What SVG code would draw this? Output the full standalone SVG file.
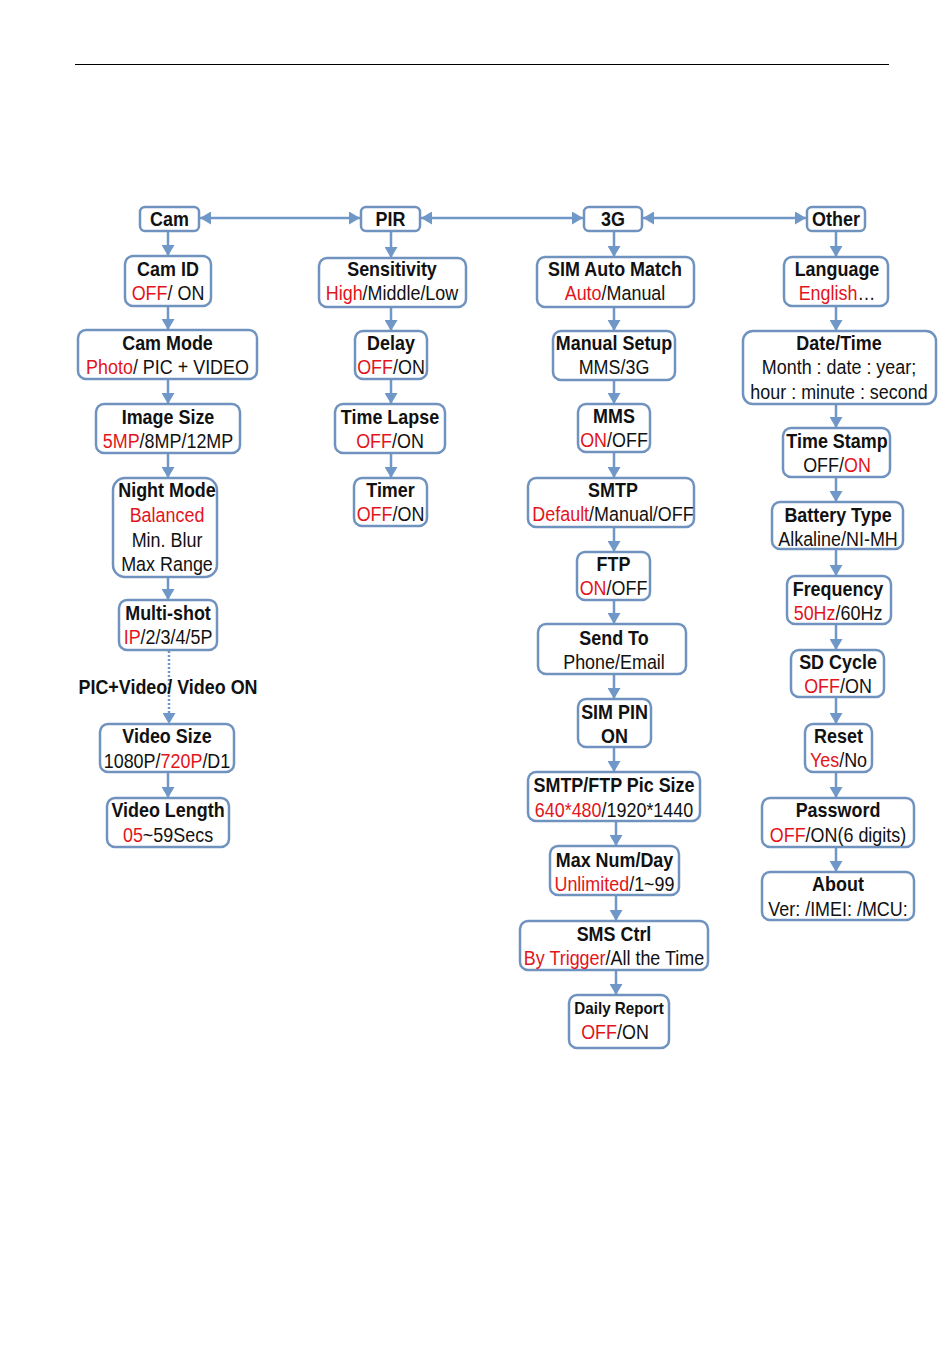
<svg xmlns="http://www.w3.org/2000/svg" width="950" height="1369" viewBox="0 0 950 1369">
<defs>
<style>
.bx{fill:#fff;stroke:#7092bf;stroke-width:2.5}
.c{stroke:#6f97c8;stroke-width:2.5;fill:none}
text{font-family:"Liberation Sans",Arial,sans-serif;font-size:19.5px;text-anchor:middle;fill:#111}
.b{font-weight:bold}
.r{fill:#e3141c}
.s{font-size:16.5px}
</style>
<marker id="ah" markerUnits="userSpaceOnUse" markerWidth="11" markerHeight="13" refX="11" refY="6.5" orient="auto-start-reverse">
<path d="M0,0 L11,6.5 L0,13 z" fill="#6f97c8"/>
</marker>
</defs>
<rect width="950" height="1369" fill="#fff"/>
<line x1="75" y1="64.5" x2="889" y2="64.5" stroke="#000" stroke-width="1"/>

<g id="connectors">
<line class="c" x1="200" y1="218" x2="360" y2="218" marker-start="url(#ah)" marker-end="url(#ah)"/>
<line class="c" x1="421" y1="218" x2="583" y2="218" marker-start="url(#ah)" marker-end="url(#ah)"/>
<line class="c" x1="643" y1="218" x2="806" y2="218" marker-start="url(#ah)" marker-end="url(#ah)"/>
<line class="c" x1="168" y1="231" x2="168" y2="256" marker-end="url(#ah)"/>
<line class="c" x1="168" y1="306" x2="168" y2="330" marker-end="url(#ah)"/>
<line class="c" x1="168" y1="379" x2="168" y2="404" marker-end="url(#ah)"/>
<line class="c" x1="168" y1="453" x2="168" y2="478" marker-end="url(#ah)"/>
<line class="c" x1="168" y1="577" x2="168" y2="600" marker-end="url(#ah)"/>
<line class="c" x1="169" y1="651" x2="169" y2="724" stroke-dasharray="2 2" stroke-width="2" marker-end="url(#ah)"/>
<line class="c" x1="168" y1="772" x2="168" y2="798" marker-end="url(#ah)"/>
<line class="c" x1="391" y1="231" x2="391" y2="258" marker-end="url(#ah)"/>
<line class="c" x1="391" y1="307" x2="391" y2="331" marker-end="url(#ah)"/>
<line class="c" x1="391" y1="379" x2="391" y2="404" marker-end="url(#ah)"/>
<line class="c" x1="391" y1="453" x2="391" y2="478" marker-end="url(#ah)"/>
<line class="c" x1="614" y1="231" x2="614" y2="257" marker-end="url(#ah)"/>
<line class="c" x1="614" y1="307" x2="614" y2="331" marker-end="url(#ah)"/>
<line class="c" x1="614" y1="380" x2="614" y2="404" marker-end="url(#ah)"/>
<line class="c" x1="614" y1="452" x2="614" y2="478" marker-end="url(#ah)"/>
<line class="c" x1="614" y1="527" x2="614" y2="552" marker-end="url(#ah)"/>
<line class="c" x1="614" y1="600" x2="614" y2="624" marker-end="url(#ah)"/>
<line class="c" x1="614" y1="674" x2="614" y2="699" marker-end="url(#ah)"/>
<line class="c" x1="614" y1="747" x2="614" y2="772" marker-end="url(#ah)"/>
<line class="c" x1="616" y1="821" x2="616" y2="846" marker-end="url(#ah)"/>
<line class="c" x1="616" y1="895" x2="616" y2="921" marker-end="url(#ah)"/>
<line class="c" x1="616" y1="970" x2="616" y2="995" marker-end="url(#ah)"/>
<line class="c" x1="836" y1="231" x2="836" y2="257" marker-end="url(#ah)"/>
<line class="c" x1="836" y1="306" x2="836" y2="331" marker-end="url(#ah)"/>
<line class="c" x1="836" y1="404" x2="836" y2="428" marker-end="url(#ah)"/>
<line class="c" x1="836" y1="477" x2="836" y2="502" marker-end="url(#ah)"/>
<line class="c" x1="836" y1="549" x2="836" y2="576" marker-end="url(#ah)"/>
<line class="c" x1="836" y1="624" x2="836" y2="650" marker-end="url(#ah)"/>
<line class="c" x1="836" y1="697" x2="836" y2="724" marker-end="url(#ah)"/>
<line class="c" x1="836" y1="772" x2="836" y2="798" marker-end="url(#ah)"/>
<line class="c" x1="836" y1="847" x2="836" y2="872" marker-end="url(#ah)"/>
</g>

<g id="cam"><rect class="bx" x="140" y="207" width="59" height="24" rx="5"/>
<text class="b" transform="translate(169.5 226) scale(.92 1)">Cam</text></g>
<g id="cam-id"><rect class="bx" x="125" y="256" width="86" height="50" rx="8"/>
<text class="b" transform="translate(168 276) scale(.92 1)">Cam ID</text>
<text transform="translate(168 300) scale(.92 1)"><tspan class="r">OFF</tspan>/ ON</text></g>
<g id="cam-mode"><rect class="bx" x="78" y="330" width="179" height="49" rx="8"/>
<text class="b" transform="translate(167.5 350) scale(.92 1)">Cam Mode</text>
<text transform="translate(167.5 374) scale(.92 1)"><tspan class="r">Photo</tspan>/ PIC + VIDEO</text></g>
<g id="image-size"><rect class="bx" x="96" y="404" width="144" height="49" rx="8"/>
<text class="b" transform="translate(168 424) scale(.92 1)">Image Size</text>
<text transform="translate(168 448) scale(.92 1)"><tspan class="r">5MP</tspan>/8MP/12MP</text></g>
<g id="night-mode"><rect class="bx" x="113" y="478" width="104" height="99" rx="12"/>
<text class="b" transform="translate(167 497) scale(.92 1)">Night Mode</text>
<text class="r" transform="translate(167 522) scale(.92 1)">Balanced</text>
<text transform="translate(167 547) scale(.92 1)">Min. Blur</text>
<text transform="translate(167 571) scale(.92 1)">Max Range</text></g>
<g id="multi-shot"><rect class="bx" x="119" y="600" width="98" height="50" rx="8"/>
<text class="b" transform="translate(168 620) scale(.92 1)">Multi-shot</text>
<text transform="translate(168 644) scale(.92 1)"><tspan class="r">IP</tspan>/2/3/4/5P</text></g>
<g id="pic-video-label"><text class="b" transform="translate(168 694) scale(.92 1)">PIC+Video/ Video ON</text></g>
<g id="video-size"><rect class="bx" x="100" y="724" width="134" height="48" rx="8"/>
<text class="b" transform="translate(167 743) scale(.92 1)">Video Size</text>
<text transform="translate(167 768) scale(.92 1)">1080P/<tspan class="r">720P</tspan>/D1</text></g>
<g id="video-length"><rect class="bx" x="107" y="798" width="122" height="49" rx="8"/>
<text class="b" transform="translate(168 817) scale(.92 1)">Video Length</text>
<text transform="translate(168 842) scale(.92 1)"><tspan class="r">05</tspan>~59Secs</text></g>

<g id="pir"><rect class="bx" x="361" y="207" width="59" height="24" rx="5"/>
<text class="b" transform="translate(390.5 226) scale(.92 1)">PIR</text></g>
<g id="sensitivity"><rect class="bx" x="319" y="258" width="147" height="49" rx="8"/>
<text class="b" transform="translate(392 276) scale(.92 1)">Sensitivity</text>
<text transform="translate(392 300) scale(.92 1)"><tspan class="r">High</tspan>/Middle/Low</text></g>
<g id="delay"><rect class="bx" x="355" y="331" width="72" height="48" rx="8"/>
<text class="b" transform="translate(391 350) scale(.92 1)">Delay</text>
<text transform="translate(391 374) scale(.92 1)"><tspan class="r">OFF</tspan>/ON</text></g>
<g id="time-lapse"><rect class="bx" x="335" y="404" width="110" height="49" rx="8"/>
<text class="b" transform="translate(390 424) scale(.92 1)">Time Lapse</text>
<text transform="translate(390 448) scale(.92 1)"><tspan class="r">OFF</tspan>/ON</text></g>
<g id="timer"><rect class="bx" x="354" y="478" width="73" height="48" rx="8"/>
<text class="b" transform="translate(390.5 497) scale(.92 1)">Timer</text>
<text transform="translate(390.5 521) scale(.92 1)"><tspan class="r">OFF</tspan>/ON</text></g>

<g id="g3"><rect class="bx" x="584" y="207" width="58" height="24" rx="5"/>
<text class="b" transform="translate(613 226) scale(.92 1)">3G</text></g>
<g id="sim-auto-match"><rect class="bx" x="537" y="257" width="157" height="50" rx="8"/>
<text class="b" transform="translate(615 276) scale(.92 1)">SIM Auto Match</text>
<text transform="translate(615 300) scale(.92 1)"><tspan class="r">Auto</tspan>/Manual</text></g>
<g id="manual-setup"><rect class="bx" x="553" y="331" width="122" height="49" rx="8"/>
<text class="b" transform="translate(614 350) scale(.92 1)">Manual Setup</text>
<text transform="translate(614 374) scale(.92 1)">MMS/3G</text></g>
<g id="mms"><rect class="bx" x="578" y="404" width="72" height="48" rx="8"/>
<text class="b" transform="translate(614 423) scale(.92 1)">MMS</text>
<text transform="translate(614 447) scale(.92 1)"><tspan class="r">ON</tspan>/OFF</text></g>
<g id="smtp"><rect class="bx" x="528" y="478" width="166" height="49" rx="8"/>
<text class="b" transform="translate(613 497) scale(.92 1)">SMTP</text>
<text transform="translate(613 521) scale(.92 1)"><tspan class="r">Default</tspan>/Manual/OFF</text></g>
<g id="ftp"><rect class="bx" x="577" y="552" width="73" height="48" rx="8"/>
<text class="b" transform="translate(613.5 571) scale(.92 1)">FTP</text>
<text transform="translate(613.5 595) scale(.92 1)"><tspan class="r">ON</tspan>/OFF</text></g>
<g id="send-to"><rect class="bx" x="538" y="624" width="148" height="50" rx="8"/>
<text class="b" transform="translate(614 645) scale(.92 1)">Send To</text>
<text transform="translate(614 669) scale(.92 1)">Phone/Email</text></g>
<g id="sim-pin"><rect class="bx" x="578" y="699" width="73" height="48" rx="8"/>
<text class="b" transform="translate(614.5 719) scale(.92 1)">SIM PIN</text>
<text class="b" transform="translate(614.5 743) scale(.92 1)">ON</text></g>
<g id="pic-size"><rect class="bx" x="528" y="772" width="172" height="49" rx="8"/>
<text class="b" transform="translate(614 792) scale(.92 1)">SMTP/FTP Pic Size</text>
<text transform="translate(614 817) scale(.92 1)"><tspan class="r">640*480</tspan>/1920*1440</text></g>
<g id="max-num"><rect class="bx" x="550" y="846" width="129" height="49" rx="8"/>
<text class="b" transform="translate(614.5 867) scale(.92 1)">Max Num/Day</text>
<text transform="translate(614.5 891) scale(.92 1)"><tspan class="r">Unlimited</tspan>/1~99</text></g>
<g id="sms-ctrl"><rect class="bx" x="520" y="921" width="188" height="49" rx="8"/>
<text class="b" transform="translate(614 941) scale(.92 1)">SMS Ctrl</text>
<text transform="translate(614 965) scale(.92 1)"><tspan class="r">By Trigger</tspan>/All the Time</text></g>
<g id="daily-report"><rect class="bx" x="569" y="995" width="100" height="53" rx="8"/>
<text class="b s" transform="translate(619 1014) scale(.92 1)">Daily Report</text>
<text transform="translate(615 1039) scale(.92 1)"><tspan class="r">OFF</tspan>/ON</text></g>

<g id="other"><rect class="bx" x="807" y="207" width="58" height="24" rx="5"/>
<text class="b" transform="translate(836 226) scale(.92 1)">Other</text></g>
<g id="language"><rect class="bx" x="784" y="257" width="104" height="49" rx="8"/>
<text class="b" transform="translate(837 276) scale(.92 1)">Language</text>
<text transform="translate(837 300) scale(.92 1)"><tspan class="r">English</tspan>…</text></g>
<g id="date-time"><rect class="bx" x="743" y="331" width="193" height="73" rx="10"/>
<text class="b" transform="translate(839 350) scale(.92 1)">Date/Time</text>
<text transform="translate(839 374) scale(.92 1)">Month : date : year;</text>
<text transform="translate(839 399) scale(.92 1)">hour : minute : second</text></g>
<g id="time-stamp"><rect class="bx" x="783" y="428" width="107" height="49" rx="8"/>
<text class="b" transform="translate(837 448) scale(.92 1)">Time Stamp</text>
<text transform="translate(837 472) scale(.92 1)">OFF/<tspan class="r">ON</tspan></text></g>
<g id="battery-type"><rect class="bx" x="772" y="502" width="131" height="47" rx="8"/>
<text class="b" transform="translate(838 522) scale(.92 1)">Battery Type</text>
<text transform="translate(838 546) scale(.92 1)">Alkaline/NI-MH</text></g>
<g id="frequency"><rect class="bx" x="787" y="576" width="104" height="48" rx="8"/>
<text class="b" transform="translate(838 596) scale(.92 1)">Frequency</text>
<text transform="translate(838 620) scale(.92 1)"><tspan class="r">50Hz</tspan>/60Hz</text></g>
<g id="sd-cycle"><rect class="bx" x="791" y="650" width="93" height="47" rx="8"/>
<text class="b" transform="translate(838 669) scale(.92 1)">SD Cycle</text>
<text transform="translate(838 693) scale(.92 1)"><tspan class="r">OFF</tspan>/ON</text></g>
<g id="reset"><rect class="bx" x="805" y="724" width="67" height="48" rx="8"/>
<text class="b" transform="translate(838.5 743) scale(.92 1)">Reset</text>
<text transform="translate(838.5 767) scale(.92 1)"><tspan class="r">Yes</tspan>/No</text></g>
<g id="password"><rect class="bx" x="762" y="798" width="152" height="49" rx="8"/>
<text class="b" transform="translate(838 817) scale(.92 1)">Password</text>
<text transform="translate(838 842) scale(.92 1)"><tspan class="r">OFF</tspan>/ON(6 digits)</text></g>
<g id="about"><rect class="bx" x="762" y="872" width="152" height="48" rx="8"/>
<text class="b" transform="translate(838 891) scale(.92 1)">About</text>
<text transform="translate(838 916) scale(.92 1)">Ver: /IMEI: /MCU:</text></g>
</svg>
